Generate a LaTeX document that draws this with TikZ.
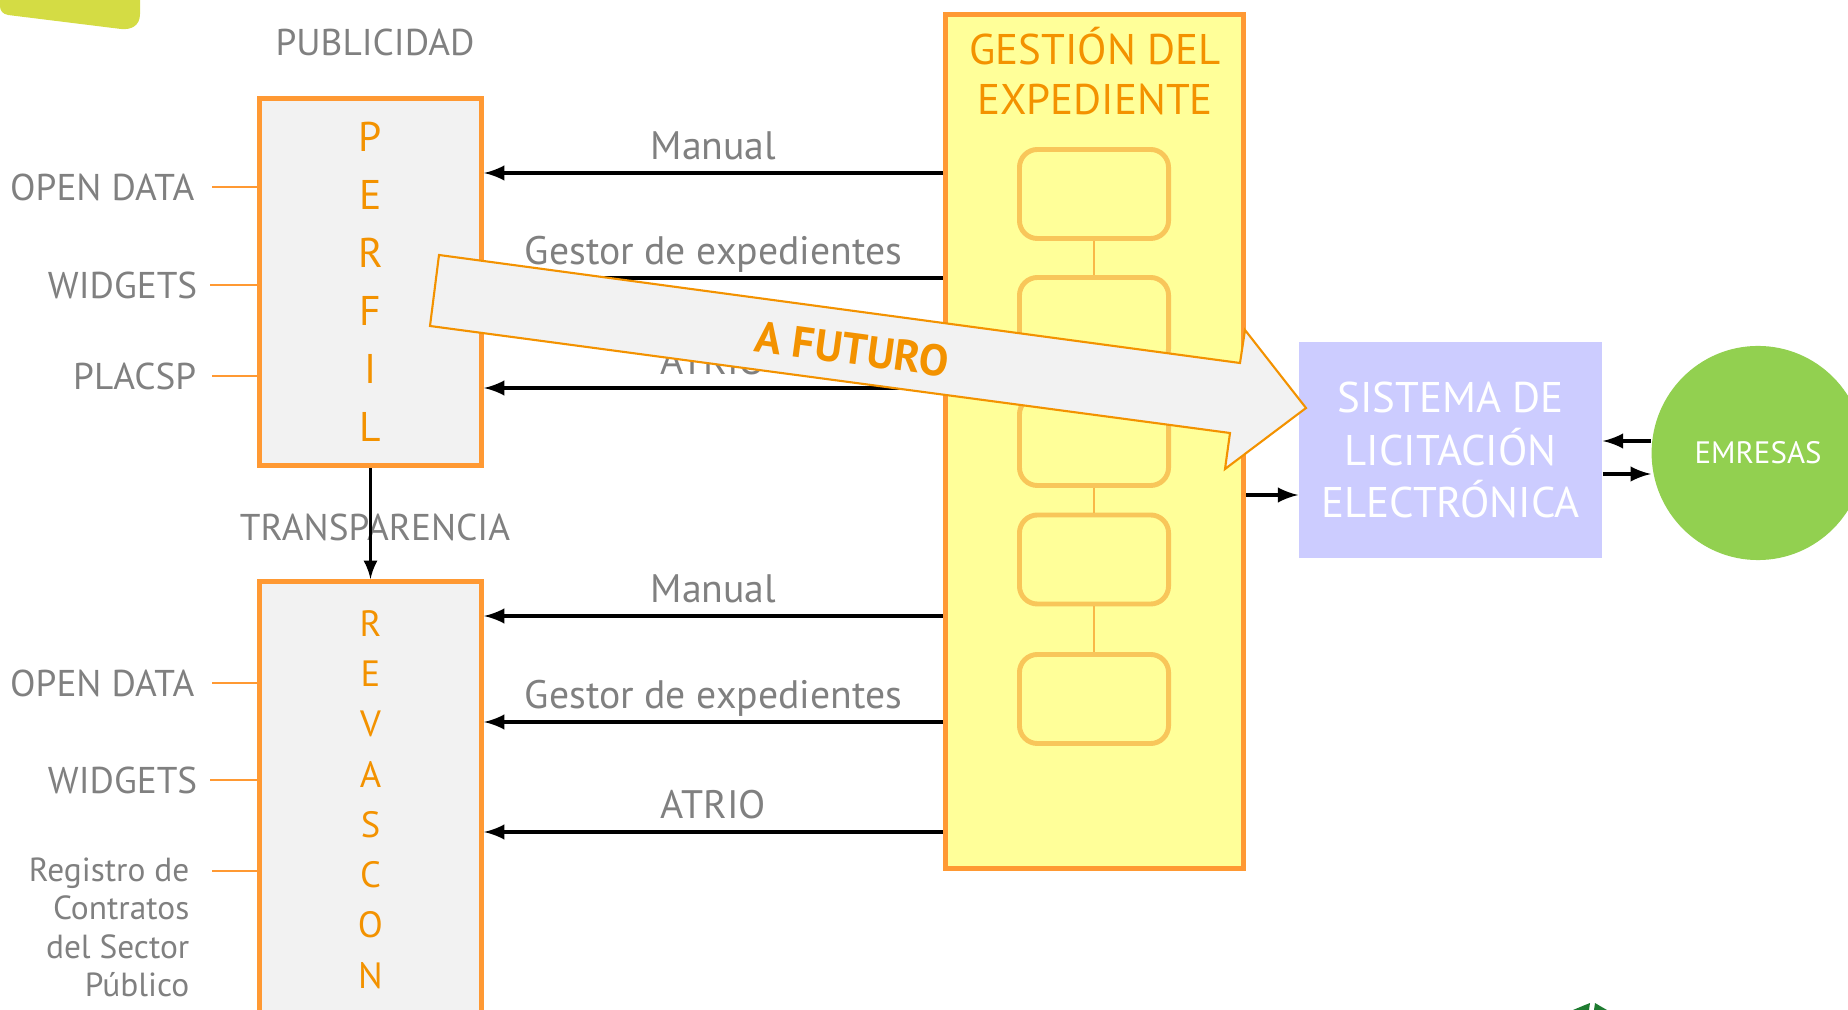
\documentclass[tikz,border=0pt]{standalone}
\usepackage{fontspec}
\setmainfont{PT Sans}
\usetikzlibrary{shapes.geometric}
\definecolor{boxorange}{HTML}{FF9933}
\definecolor{txtorange}{HTML}{F39200}
\definecolor{txtgray}{HTML}{808080}
\definecolor{panel}{HTML}{F2F2F2}
\definecolor{gyellow}{HTML}{FFFF99}
\definecolor{stepline}{HTML}{F8C65A}
\definecolor{lila}{HTML}{CCCCFF}
\definecolor{verde}{HTML}{92D050}
\definecolor{lima}{HTML}{D4DC44}
\definecolor{hoja}{HTML}{1E7B30}

\tikzset{
  portal/.style={draw=boxorange, line width=1.4pt, fill=panel, minimum width=2.22cm, text=txtorange, align=center},
  stepbox/.style={draw=stepline, line width=1.4pt, fill=gyellow, rounded corners=0.18cm, minimum width=1.49cm, minimum height=0.89cm},
  flow/.style={-latex, line width=1pt},
  lbl/.style={text=txtgray, font=\fontsize{11.3}{13}\selectfont},
  side/.style={text=txtgray, font=\fontsize{10.6}{13}\selectfont, anchor=east, inner xsep=0.17cm},
  tick/.style={draw=boxorange, semithick},
}

\begin{document}
\begin{tikzpicture}[x=0.01cm, y=-0.01cm]
\useasboundingbox (0,0) rectangle (1848,1010);

 \fill[lima] (0,0) -- (140,0) -- (140,14) .. controls (140,26) and (131,30) .. (121,29) -- (8,15) .. controls (3,14) and (0,11) .. (0,6) -- cycle;

 % perfil y revascon
 \node[portal, minimum height=3.67cm, font=\fontsize{11.8}{16.5}\selectfont] (perfil) at (370.5,282) {P\\E\\R\\F\\I\\L};
 \node[portal, minimum height=4.36cm, font=\fontsize{10.4}{14.3}\selectfont] (revascon) at (370.5,799.5) {R\\E\\V\\A\\S\\C\\O\\N};

 \node[side, anchor=center, inner xsep=0pt] (publicidad) at (375,42) {PUBLICIDAD};
 \node[side, anchor=center, inner xsep=0pt] (transparencia) at (375,527) {TRANSPARENCIA};
 \draw[flow, line width=0.8pt] (perfil.south) -- (revascon.north);

 \node[side] (od1) at (212,187) {OPEN DATA};
 \node[side, inner xsep=0.12cm] (wd1) at (210,285) {WIDGETS};
 \node[side, inner xsep=0.15cm] (placsp) at (212,376) {PLACSP};
 \draw[tick] (od1.east) -- (perfil.west |- od1.east);
 \draw[tick] (wd1.east) -- (perfil.west |- wd1.east);
 \draw[tick] (placsp.east) -- (perfil.west |- placsp.east);

 \node[side] (od2) at (212,683) {OPEN DATA};
 \node[side, inner xsep=0.12cm] (wd2) at (210,780) {WIDGETS};
 \node[side, anchor=north east, align=right, inner xsep=0.22cm, inner ysep=0pt, font=\fontsize{9.5}{10.9}\selectfont] (registro) at (212,857) {Registro de\\Contratos\\del Sector\\Público};
 \draw[tick] (od2.east) -- (revascon.west |- od2.east);
 \draw[tick] (wd2.east) -- (revascon.west |- wd2.east);
 \draw[tick] (registro.north east |- 0,871) -- (revascon.west |- 0,871);

 % gestion del expediente
 \node[draw=boxorange, line width=1.4pt, fill=gyellow, minimum width=2.98cm, minimum height=8.54cm] (gestion) at (1094.5,441.5) {};
 \node[text=txtorange, align=center, font=\fontsize{12.2}{14.2}\selectfont] (titulo) at (1095,71) {GESTIÓN DEL\\EXPEDIENTE};

 \node[stepbox] (s1) at (1094,194) {};
 \node[stepbox] (s2) at (1094,322) {};
 \node[stepbox] (s3) at (1094,441) {};
 \node[stepbox] (s4) at (1094,559.5) {};
 \node[stepbox] (s5) at (1094,699) {};
 \draw[stepline!80!orange, line width=0.4pt] (s1) -- (s2) (s2) -- (s3) (s3) -- (s4) (s4) -- (s5);

 \draw[flow] (gestion.west |- 0,173) -- node[lbl, anchor=base, yshift=0.13cm] (manual1) {Manual} (perfil.east |- 0,173);
 \draw[flow] (gestion.west |- 0,278) -- node[lbl, anchor=base, yshift=0.13cm] (gestor1) {Gestor de expedientes} (perfil.east |- 0,278);
 \draw[flow] (gestion.west |- 0,388) -- node[lbl, anchor=base, yshift=0.13cm] (atrio1) {ATRIO} (perfil.east |- 0,388);
 \draw[flow] (gestion.west |- 0,616) -- node[lbl, anchor=base, yshift=0.13cm] (manual2) {Manual} (revascon.east |- 0,616);
 \draw[flow] (gestion.west |- 0,722) -- node[lbl, anchor=base, yshift=0.13cm] (gestor2) {Gestor de expedientes} (revascon.east |- 0,722);
 \draw[flow] (gestion.west |- 0,832) -- node[lbl, anchor=base, yshift=0.13cm] (atrio2) {ATRIO} (revascon.east |- 0,832);

 % licitacion y empresas
 \node[fill=lila, minimum width=3.03cm, minimum height=2.16cm, text=white, align=center, font=\fontsize{12.2}{14.8}\selectfont] (sistema) at (1450.5,450) {SISTEMA DE\\LICITACIÓN\\ELECTRÓNICA};
 \node[ellipse, fill=verde, minimum width=1.96cm, minimum height=2.14cm, text=white, font=\fontsize{8.8}{10}\selectfont] (emresas) at (1758,453) {EMRESAS};
 \draw[flow] (gestion.east |- 0,495) -- (sistema.west |- 0,495);
 \draw[flow] (emresas.west |- 0,441) -- (sistema.east |- 0,441);
 \draw[flow] (sistema.east |- 0,474) -- (emresas.west |- 0,474);

 % flecha a futuro
 \draw[draw=txtorange, fill=panel, line width=0.6pt] (439,255) -- (1240,363) -- (1245,330) -- (1306,408) -- (1225,469) -- (1230,433) -- (430,326) -- cycle;
 \node[text=txtorange, font=\bfseries\fontsize{12.5}{14}\selectfont, rotate=-7.7] (futuro) at (852,349) {A FUTURO};

 \fill[hoja] (1573,1010) -- (1585,1005) -- (1590,1003) -- (1589,1010) -- cycle;
 \fill[hoja] (1594,1010) -- (1595,1003) -- (1600,1006) -- (1607,1010) -- cycle;

\end{tikzpicture}
\end{document}
